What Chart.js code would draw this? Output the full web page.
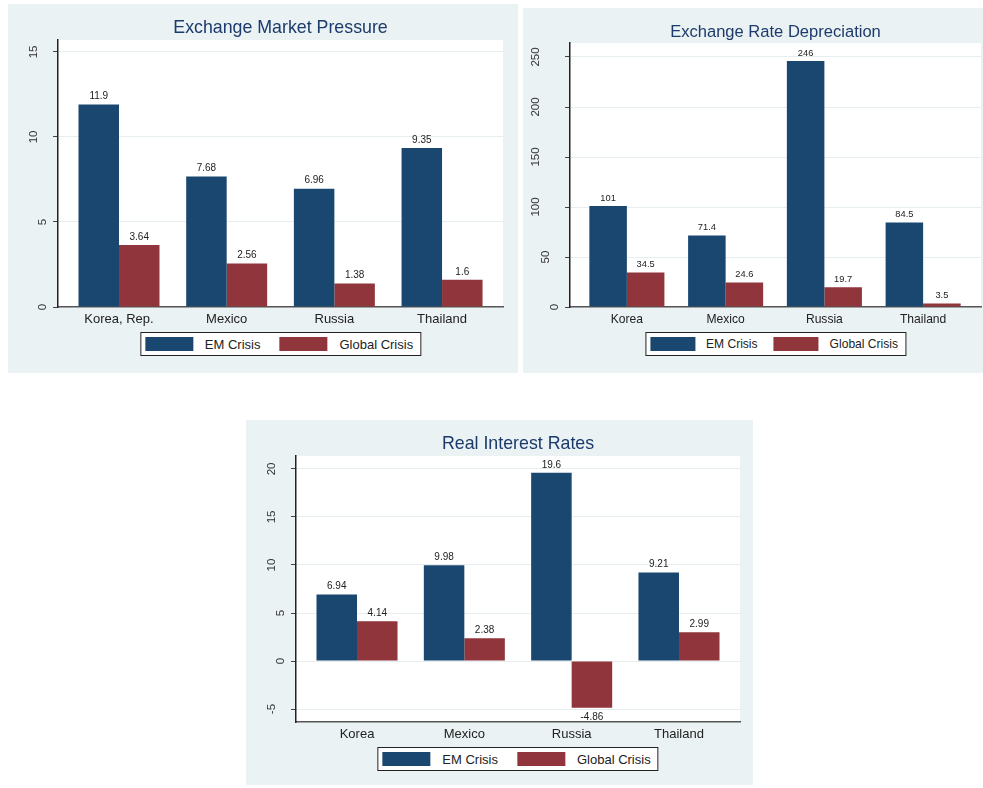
<!DOCTYPE html>
<html>
<head>
<meta charset="utf-8">
<script src="https://cdn.jsdelivr.net/npm/chart.js@4.4.1/dist/chart.umd.min.js"></script>
<style>
  body { margin: 0; background: #fff; width: 983px; height: 788px; position: relative; overflow: hidden;
         font-family: 'Liberation Sans', Arial, sans-serif; }
  .panel { position: absolute; background: #eaf2f3; }
  .panel canvas { position: absolute; left: 0; top: 0; }
  .legend { position: absolute; display: flex; align-items: center; box-sizing: border-box; height: 24px;
            border: 1.5px solid #222; background: #fff; color: #222;
            transform: translateX(-50%); white-space: nowrap; }
  .item { display: flex; align-items: center; }
  .item:last-child { margin-right: 0 !important; }
  .swatch { height: 14px; }
</style>
</head>
<body>
<script>
// data
const seriesNames = ['EM Crisis', 'Global Crisis'];
const seriesColors = ['#1a476f', '#90353b'];

const empCountries = ['Korea, Rep.', 'Mexico', 'Russia', 'Thailand'];
const empEM = [11.9, 7.68, 6.96, 9.35];
const empGlobal = [3.64, 2.56, 1.38, 1.6];
const empTicks = [0, 5, 10, 15];

const erdCountries = ['Korea', 'Mexico', 'Russia', 'Thailand'];
const erdEM = [101, 71.4, 246, 84.5];
const erdGlobal = [34.5, 24.6, 19.7, 3.5];
const erdTicks = [0, 50, 100, 150, 200, 250];

const rirCountries = ['Korea', 'Mexico', 'Russia', 'Thailand'];
const rirEM = [6.94, 9.98, 19.6, 9.21];
const rirGlobal = [4.14, 2.38, -4.86, 2.99];
const rirTicks = [-5, 0, 5, 10, 15, 20];

const FONT = "'Liberation Sans', Arial, sans-serif";

// white plot region
const plotBg = {
  id: 'plotBg',
  beforeDraw(chart) {
    const a = chart.chartArea;
    chart.ctx.save();
    chart.ctx.fillStyle = '#fff';
    chart.ctx.fillRect(a.left, a.top, a.right - a.left, a.bottom - a.top);
    chart.ctx.restore();
  }
};

// title, rotated y tick labels, bar value labels
const decorations = {
  id: 'decorations',
  afterDraw(chart, args, opts) {
    const ctx = chart.ctx;
    const a = chart.chartArea;
    const k = opts.k;
    ctx.save();
    ctx.fillStyle = '#1d3a6c';
    ctx.font = (17.8 * k) + 'px ' + FONT;
    ctx.textAlign = 'center';
    ctx.textBaseline = 'middle';
    ctx.fillText(opts.title, (a.left + a.right) / 2, 24);

    const y = chart.scales.y;
    ctx.fillStyle = '#333';
    ctx.font = '11.5px ' + FONT;
    y.ticks.forEach(t => {
      const label = String(t.value);
      const px = a.left - (15 + 9.5 * (label.length - 1));
      ctx.save();
      ctx.translate(px, y.getPixelForValue(t.value));
      ctx.rotate(-Math.PI / 2);
      ctx.fillText(label, 0, 0);
      ctx.restore();
    });

    ctx.fillStyle = '#222';
    ctx.font = (10 * k) + 'px ' + FONT;
    chart.data.datasets.forEach((ds, di) => {
      chart.getDatasetMeta(di).data.forEach((bar, i) => {
        const v = ds.data[i].y;
        ctx.fillText(String(v), bar.x, v >= 0 ? bar.y - 8 : bar.y + 10);
      });
    });
    ctx.restore();
  }
};

function makePanel(p) {
  const k = p.k;
  const div = document.createElement('div');
  div.className = 'panel';
  div.style.left = p.left + 'px';
  div.style.top = p.top + 'px';
  div.style.width = p.w + 'px';
  div.style.height = p.h + 'px';
  document.body.appendChild(div);

  const canvas = document.createElement('canvas');
  canvas.width = p.w;
  canvas.height = p.h;
  div.appendChild(canvas);

  // legend
  const leg = document.createElement('div');
  leg.className = 'legend';
  leg.style.left = ((p.plot[0] + p.plot[2]) / 2) + 'px';
  leg.style.top = p.legendTop + 'px';
  leg.style.fontSize = (13 * k) + 'px';
  leg.style.padding = `0 ${Math.round(7 * k)}px 0 ${Math.round(4 * k)}px`;
  seriesNames.forEach((name, i) => {
    leg.innerHTML += `<div class="item" style="margin-right:${Math.round(19 * k * k)}px">` +
      `<div class="swatch" style="background:${seriesColors[i]};width:${Math.round(48 * k)}px;margin-right:${Math.round(12 * k)}px"></div>` +
      `<span>${name}</span></div>`;
  });
  div.appendChild(leg);

  const series = [p.em, p.global];

  new Chart(canvas, {
    type: 'bar',
    data: {
      datasets: series.map((vals, si) => ({
        label: seriesNames[si],
        data: vals.map((v, i) => ({ x: i + 1, y: v })),
        backgroundColor: seriesColors[si],
        borderWidth: 0,
        categoryPercentage: p.catPct,
        barPercentage: 1
      }))
    },
    options: {
      responsive: false,
      animation: false,
      layout: { padding: { left: 0, top: p.plot[1], right: p.w - p.plot[2], bottom: 0 } },
      plugins: {
        legend: { display: false },
        title: { display: false },
        tooltip: { enabled: false },
        decorations: { title: p.title, k: k }
      },
      scales: {
        x: {
          type: 'linear',
          bounds: 'data',
          offset: false,
          min: p.xRange[0],
          max: p.xRange[1],
          afterBuildTicks: s => { s.ticks = p.countries.map((c, i) => ({ value: i + 1 })); },
          afterFit: s => { s.height = p.h - p.plot[3]; },
          grid: { display: false, drawTicks: false, offset: false },
          border: { display: true, color: '#555', width: 1.5 },
          ticks: {
            callback: (v, i) => p.countries[i],
            font: { family: FONT, size: 13 * k },
            color: '#222',
            padding: 5,
            maxRotation: 0,
            autoSkip: false
          }
        },
        y: {
          min: p.yRange[0],
          max: p.yRange[1],
          afterBuildTicks: s => { s.ticks = p.ticks.map(v => ({ value: v })); },
          afterFit: s => { s.width = p.plot[0]; },
          grid: { color: '#e6eef0', lineWidth: 1, drawTicks: true, tickLength: 5, tickColor: '#444' },
          border: { display: true, color: '#222', width: 1.5 },
          ticks: { display: false }
        }
      }
    },
    plugins: [plotBg, decorations]
  });
}

makePanel({
  left: 8, top: 4, w: 510, h: 369, plot: [50, 36, 495, 303], legendTop: 328, k: 1,
  title: 'Exchange Market Pressure', countries: empCountries, em: empEM, global: empGlobal,
  ticks: empTicks, yRange: [0, 15.7], xRange: [0.4336, 4.566], catPct: 0.752
});
makePanel({
  left: 523, top: 8, w: 460, h: 365, plot: [47, 35, 458, 299], legendTop: 324, k: 0.93,
  title: 'Exchange Rate Depreciation', countries: erdCountries, em: erdEM, global: erdGlobal,
  ticks: erdTicks, yRange: [0, 264], xRange: [0.424, 4.586], catPct: 0.76
});
makePanel({
  left: 246, top: 420, w: 507, h: 365, plot: [50, 36, 494, 302], legendTop: 327, k: 1,
  title: 'Real Interest Rates', countries: rirCountries, em: rirEM, global: rirGlobal,
  ticks: rirTicks, yRange: [-6.35, 21.35], xRange: [0.4315, 4.5685], catPct: 0.755
});
</script>
</body>
</html>
